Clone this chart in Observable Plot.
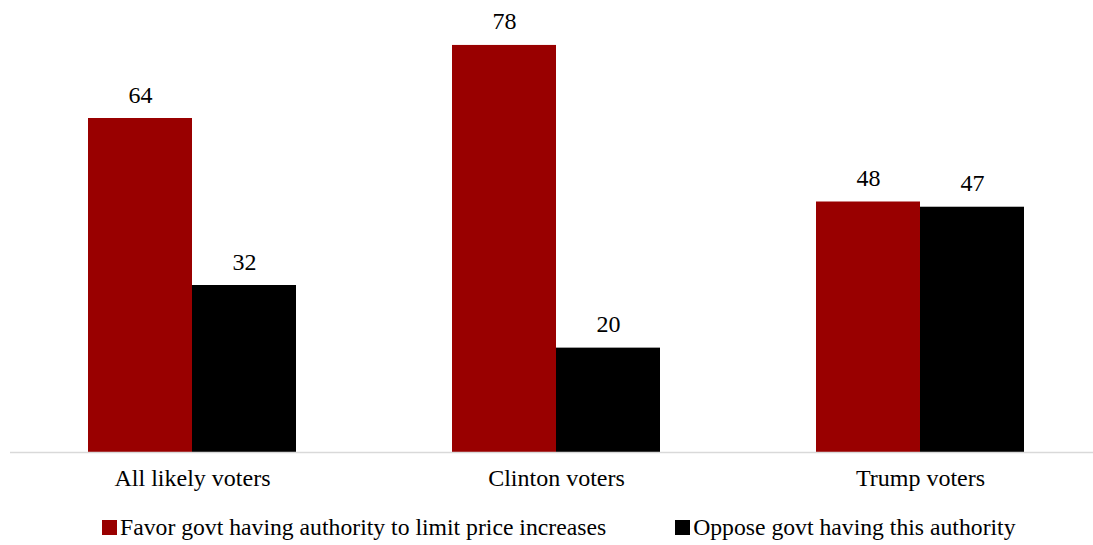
<!DOCTYPE html>
<html><head><meta charset="utf-8">
<script src="https://cdn.jsdelivr.net/npm/d3@7"></script>
<script src="https://cdn.jsdelivr.net/npm/@observablehq/plot@0.6"></script>
<style>
body{margin:0;background:#fff;font-family:"Liberation Serif","Times New Roman",serif;}
#legend{display:flex;align-items:center;padding-left:102px;margin-top:13px;font-size:23.7px;color:#000;line-height:28px;}
.item{display:flex;align-items:center;}
.sw{width:15px;height:15px;margin-right:3px;display:inline-block;}
</style>
</head><body><div id="chart"></div><div id="legend"></div><script>
const categories = ["All likely voters","Clinton voters","Trump voters"];
const seriesNames = ["Favor govt having authority to limit price increases","Oppose govt having this authority"];
const favorValues = [64,78,48];
const opposeValues = [32,20,47];
const colors = ["#990000","#000000"];
const data = categories.flatMap((c,i)=>[
  {category:c, series:seriesNames[0], value:favorValues[i]},
  {category:c, series:seriesNames[1], value:opposeValues[i]}
]);
const serif = '"Liberation Serif","Times New Roman",serif';
const plot = Plot.plot({
  width:1093, height:500, marginTop:34.5, marginBottom:48, marginLeft:0, marginRight:0,
  style:{fontFamily:serif, fontSize:"24px", color:"#000", background:"#fff"},
  fx:{domain:categories, range:[9.25,1102.75], padding:0, label:null, axis:"bottom", tickSize:0, tickPadding:16},
  x:{domain:seriesNames, paddingInner:0, paddingOuter:0.75, axis:null},
  y:{domain:[0,80], axis:null},
  color:{domain:seriesNames, range:colors},
  marks:[
    Plot.barY(data,{fx:"category", x:"series", y:"value", fill:"series"}),
    Plot.ruleY([0],{stroke:"#d9d9d9", strokeWidth:1.5}),
    Plot.text(data,{fx:"category", x:"series", y:"value", text:d=>String(d.value), lineAnchor:"bottom", dy:-16, fill:"#000", fontFamily:serif, fontSize:24})
  ]
});
document.getElementById("chart").appendChild(plot);
const legend = document.getElementById("legend");
seriesNames.forEach((s,i)=>{
  const it = document.createElement("div");
  it.className="item";
  if(i>0) it.style.marginLeft="69px";
  const sw=document.createElement("span");sw.className="sw";sw.style.background=colors[i];
  const t=document.createElement("span");t.textContent=s;
  it.appendChild(sw);it.appendChild(t);legend.appendChild(it);
});
</script></body></html>
